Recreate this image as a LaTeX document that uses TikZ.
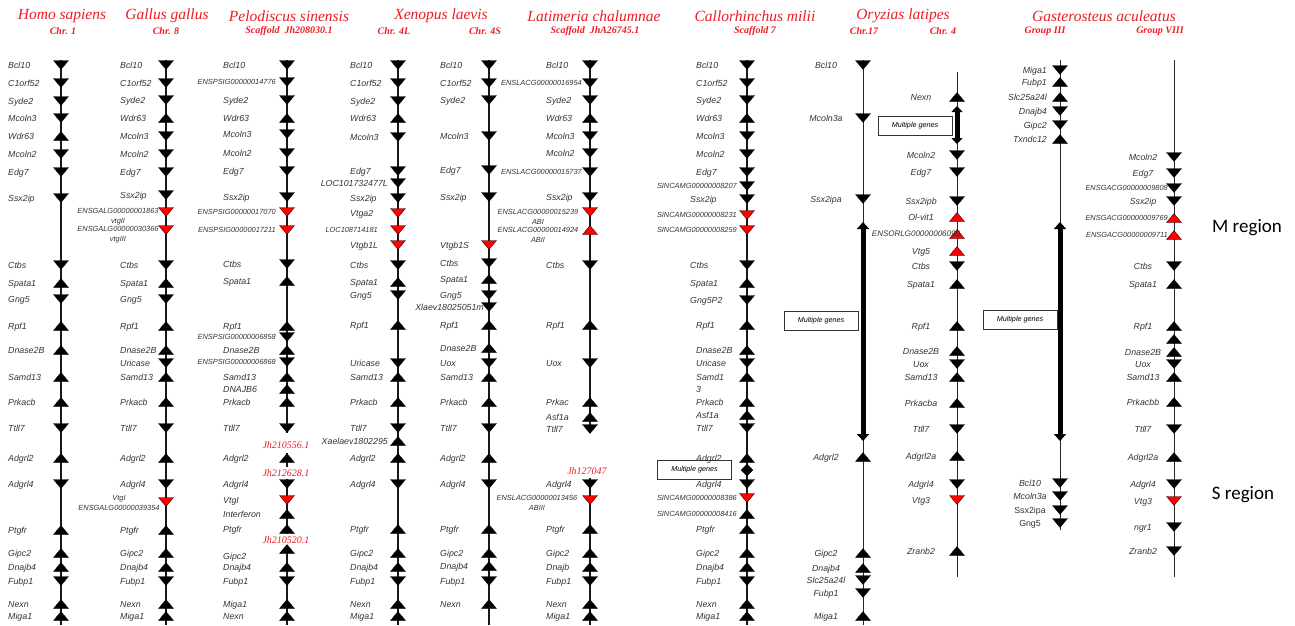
\documentclass[tikz,border=0pt]{standalone}
\usepackage{fontspec}
\setmainfont{Liberation Serif}
\setsansfont{Liberation Sans}
\newfontfamily\regfont{Carlito}
\usetikzlibrary{arrows.meta}
\definecolor{tred}{RGB}{236,28,36}
\tikzset{
 chr/.style={line width=1.3pt, black!90},
 chrthin/.style={line width=0.9pt, black!85},
 tri/.style={fill=black, draw=black, line width=0.3pt},
 gl/.style={font=\sffamily\itshape\fontsize{8.8}{10}\selectfont, text=black!80, inner sep=0pt, text height=6.2pt, text depth=0pt},
 glu/.style={font=\sffamily\fontsize{8.8}{10}\selectfont, text=black!80, inner sep=0pt, text height=6.2pt, text depth=0pt},
 gl2/.style={font=\sffamily\itshape\fontsize{8.8}{12}\selectfont, text=black!80, inner sep=0pt, align=left},
 gs1/.style={font=\sffamily\itshape\fontsize{7.4}{9}\selectfont, text=black!80, inner sep=0pt, text height=5.2pt, text depth=0pt},
 gs2/.style={font=\sffamily\itshape\fontsize{7.4}{10}\selectfont, text=black!80, inner sep=0pt, align=center},
 title/.style={font=\itshape\fontsize{15.5}{18}\selectfont, text=tred, inner sep=0pt},
 sub/.style={font=\bfseries\itshape\fontsize{10}{12}\selectfont, text=tred, inner sep=0pt},
 jh/.style={font=\itshape\fontsize{10}{12}\selectfont, text=tred, inner sep=0.5pt},
 mbox/.style={draw=black!80, line width=0.8pt, minimum width=74pt, minimum height=19pt, inner sep=0pt, font=\sffamily\itshape\fontsize{7.2}{8}\selectfont},
 bar/.style={line width=5pt, {Triangle[width=12pt,length=7pt]}-{Triangle[width=12pt,length=7pt]}},
 sbar/.style={line width=5pt, {Triangle[width=11pt,length=6pt]}-{Triangle[width=11pt,length=6pt]}},
 region/.style={font=\regfont\fontsize{19}{22}\selectfont, inner sep=0pt}
}
\newcommand\mkd[2]{\path[tri] (#1,#2) ++(-7.5,-4.5) -- ++(15,0) -- ++(-7.5,9) -- cycle;}
\newcommand\mku[2]{\path[tri] (#1,#2) ++(-7.5,4.5) -- ++(15,0) -- ++(-7.5,-9) -- cycle;}
\newcommand\mkr[2]{\path[tri,fill=red] (#1,#2) ++(-7.5,-4.5) -- ++(15,0) -- ++(-7.5,9) -- cycle;}
\newcommand\mkR[2]{\path[tri,fill=red] (#1,#2) ++(-7.5,4.5) -- ++(15,0) -- ++(-7.5,-9) -- cycle;}
\newcommand\mkany[3]{\csname mk#1\endcsname{#2}{#3}}
% #1 prefix, #2 line x, #3 label x, #4 anchor, #5 label style, #6 list y/kind/text
\newcommand\genecol[6]{\foreach \gy/\gk/\gn in {#6} {\mkany{\gk}{#2}{\gy}\node[#5,anchor=#4] (#1\gy) at (#3,\gy) {\gn};}}
\begin{document}
\begin{tikzpicture}[x=1pt,y=-1pt]
\useasboundingbox (0,0) rectangle (1295,625);
% ---------- titles
\node[title] (tH) at (62,16) {Homo sapiens};
\node[sub] (sH) at (63,31) {Chr. 1};
\node[title] (tG) at (167,16) {Gallus gallus};
\node[sub] (sG) at (166,31) {Chr. 8};
\node[title] (tP) at (289,16) {Pelodiscus sinensis};
\node[sub] (sP) at (289,31) {Scaffold\ \ Jh208030.1};
\node[title] (tX) at (441,16) {Xenopus laevis};
\node[sub] (sX1) at (394,31) {Chr. 4L};
\node[sub] (sX2) at (485,31) {Chr. 4S};
\node[title] (tL) at (594,16) {Latimeria chalumnae};
\node[sub] (sL) at (595,31) {Scaffold\ \ JhA26745.1};
\node[title] (tC) at (755,16) {Callorhinchus milii};
\node[sub] (sC) at (755,31) {Scaffold 7};
\node[title] (tO) at (903,16) {Oryzias latipes};
\node[sub] (sO1) at (864,31) {Chr.17};
\node[sub] (sO2) at (943,31) {Chr. 4};
\node[title] (tGa) at (1104,16) {Gasterosteus aculeatus};
\node[sub] (sGa1) at (1045,31) {Group III};
\node[sub] (sGa2) at (1160,31) {Group VIII};
% ---------- chromosome lines
\coordinate (Ht) at (61,60); \coordinate (Hb) at (61,625); \draw[chr] (Ht) -- (Hb);
\coordinate (Gt) at (166,60); \coordinate (Gb) at (166,625); \draw[chr] (Gt) -- (Gb);
\coordinate (Pt) at (287,60); \coordinate (Pa) at (287,433); \draw[chr] (Pt) -- (Pa);
\coordinate (Pc) at (287,453); \coordinate (Pd) at (287,467); \draw[chr] (Pc) -- (Pd);
\coordinate (Pe) at (287,479); \coordinate (Pf) at (287,534); \draw[chr] (Pe) -- (Pf);
\coordinate (Pg) at (287,545); \coordinate (Pb) at (287,625); \draw[chr] (Pg) -- (Pb);
\coordinate (XLt) at (398,60); \coordinate (XLb) at (398,625); \draw[chr] (XLt) -- (XLb);
\coordinate (XSt) at (489,60); \coordinate (XSb) at (489,625); \draw[chr] (XSt) -- (XSb);
\coordinate (Lt) at (590,60); \coordinate (La) at (590,433); \draw[chr] (Lt) -- (La);
\coordinate (Lc) at (590,478); \coordinate (Lb) at (590,625); \draw[chr] (Lc) -- (Lb);
\coordinate (Ct) at (747,60); \coordinate (Cb) at (747,625); \draw[chr] (Ct) -- (Cb);
\coordinate (Ot) at (863,60); \coordinate (Ob) at (863,625); \draw[chrthin] (Ot) -- (Ob);
\coordinate (Qt) at (957,72); \coordinate (Qb) at (957,577); \draw[chrthin] (Qt) -- (Qb);
\coordinate (At) at (1060,60); \coordinate (Ab) at (1060,530); \draw[chrthin] (At) -- (Ab);
\coordinate (Bt) at (1174,60); \coordinate (Bb) at (1174,577); \draw[chrthin] (Bt) -- (Bb);
% ---------- Homo sapiens
\genecol{H}{61}{8}{west}{gl}{65/d/Bcl10,83/d/C1orf52,101/d/Syde2,118/d/Mcoln3,136/u/Wdr63,154/d/Mcoln2,172/d/Edg7,198/d/Ssx2ip,265/d/Ctbs,283/u/Spata1,299/d/Gng5,326/u/Rpf1,350/u/Dnase2B,377/u/Samd13,402/u/Prkacb,428/d/Ttll7,458/u/Adgrl2,484/d/Adgrl4,530/u/Ptgfr,553/u/Gipc2,567/u/Dnajb4,581/d/Fubp1,604/u/Nexn,616/u/Miga1}
% ---------- Gallus gallus
\genecol{G}{166}{120}{west}{gl}{65/d/Bcl10,83/d/C1orf52,100/d/Syde2,118/u/Wdr63,136/d/Mcoln3,154/d/Mcoln2,172/d/Edg7,195/d/Ssx2ip,265/d/Ctbs,283/u/Spata1,299/d/Gng5,326/u/Rpf1,350/u/Dnase2B,363/d/Uricase,377/u/Samd13,402/u/Prkacb,428/d/Ttll7,458/u/Adgrl2,484/d/Adgrl4,530/u/Ptgfr,553/u/Gipc2,567/u/Dnajb4,581/d/Fubp1,604/u/Nexn,616/u/Miga1}
\mkr{166}{212} \mkr{166}{230} \mkr{166}{502}
\node[gs2] (G212) at (118,217) {ENSGALG00000001863\\vtgII};
\node[gs2] (G230) at (118,235) {ENSGALG00000030366\\vtgIII};
\node[gs2] (G502) at (119,503) {VtgI\\ENSGALG00000039354};
% ---------- Pelodiscus sinensis
\genecol{P}{287}{223}{west}{gl}{65/d/Bcl10,100/d/Syde2,118/u/Wdr63,134/d/Mcoln3,153/d/Mcoln2,171/d/Edg7,197/d/Ssx2ip,264/d/Ctbs,281/u/Spata1,326/u/Rpf1,350/u/Dnase2B,377/u/Samd13,389/u/DNAJB6,402/u/Prkacb,428/d/Ttll7,458/u/Adgrl2,484/d/Adgrl4,500/r/VtgI,514/u/Interferon,529/u/Ptgfr,567/u/Dnajb4,581/d/Fubp1,604/u/Miga1,616/u/Nexn}
\mku{287}{549}
\node[gl,anchor=west] (P556) at (223,556) {Gipc2};
\genecol{PE}{287}{276}{east}{gs1}{82/d/ENSPSIG00000014776,212/r/ENSPSIG00000017070,230/r/ENSPSIG00000017211,337/d/ENSPSIG00000006858,362/d/ENSPSIG00000006868}
\node[jh] (J1) at (286,445) {Jh210556.1};
\node[jh] (J2) at (286,473) {Jh212628.1};
\node[jh] (J3) at (286,540) {Jh210520.1};
% ---------- Xenopus laevis 4L
\genecol{XL}{398}{350}{west}{gl}{65/d/Bcl10,83/d/C1orf52,101/d/Syde2,118/u/Wdr63,137/d/Mcoln3,171/d/Edg7,198/d/Ssx2ip,213/r/Vtga2,245/r/Vtgb1L,265/d/Ctbs,282/u/Spata1,295/d/Gng5,325/u/Rpf1,363/d/Uricase,377/u/Samd13,402/u/Prkacb,428/d/Ttll7,458/u/Adgrl2,484/d/Adgrl4,529/u/Ptgfr,553/u/Gipc2,567/u/Dnajb4,581/d/Fubp1,604/u/Nexn,616/u/Miga1}
\genecol{XLE}{398}{388}{east}{gl}{183/d/LOC101732477L,441/u/Xaelaev1802295}
\genecol{XLF}{398}{378}{east}{gs1}{230/r/LOC108714181}
% ---------- Xenopus laevis 4S
\genecol{XS}{489}{440}{west}{gl}{65/d/Bcl10,83/d/C1orf52,100/d/Syde2,136/d/Mcoln3,170/d/Edg7,197/d/Ssx2ip,245/r/Vtgb1S,263/d/Ctbs,279/u/Spata1,295/d/Gng5,325/u/Rpf1,348/u/Dnase2B,363/d/Uox,377/u/Samd13,402/u/Prkacb,428/d/Ttll7,458/u/Adgrl2,484/d/Adgrl4,529/u/Ptgfr,553/u/Gipc2,566/u/Dnajb4,581/d/Fubp1,604/u/Nexn}
\genecol{XSE}{489}{484}{east}{gl}{307/d/Xlaev18025051m}
% ---------- Latimeria chalumnae
\genecol{L}{590}{546}{west}{gl}{65/d/Bcl10,100/d/Syde2,118/u/Wdr63,136/d/Mcoln3,153/d/Mcoln2,197/d/Ssx2ip,265/d/Ctbs,325/u/Rpf1,363/d/Uox,402/u/Prkac,417/u/Asf1a,429/d/Ttll7,484/d/Adgrl4,529/u/Ptgfr,553/u/Gipc2,567/u/Dnajb,581/d/Fubp1,604/u/Nexn,616/u/Miga1}
\genecol{LE}{590}{582}{east}{gs1}{83/d/ENSLACG00000016954,172/d/ENSLACG00000015737}
\mkr{590}{212} \mkR{590}{230} \mkr{590}{500}
\node[gs2] (L212) at (538,217) {ENSLACG00000015239\\ABI};
\node[gs2] (L230) at (538,235) {ENSLACG00000014924\\ABII};
\node[gs2] (L500) at (537,503) {ENSLACG00000013456\\ABIII};
\node[jh] (J4) at (587,471) {Jh127047};
% ---------- Callorhinchus milii
\genecol{C}{747}{696}{west}{gl}{65/d/Bcl10,83/d/C1orf52,100/d/Syde2,118/u/Wdr63,136/d/Mcoln3,154/d/Mcoln2,172/d/Edg7,325/u/Rpf1,350/u/Dnase2B,363/d/Uricase,402/u/Prkacb,415/u/Asf1a,428/d/Ttll7,458/u/Adgrl2,484/d/Adgrl4,529/u/Ptgfr,553/u/Gipc2,567/u/Dnajb4,581/d/Fubp1,604/u/Nexn,616/u/Miga1}
\genecol{CW}{747}{690}{west}{gl}{199/d/Ssx2ip,265/d/Ctbs,283/u/Spata1,300/d/Gng5P2}
\mku{747}{377}
\node[gl2,anchor=west] (C377) at (696,383) {Samd1\\3};
\genecol{CE}{747}{737}{east}{gs1}{186/d/SINCAMG00000008207,215/r/SINCAMG00000008231,230/r/SINCAMG00000008259,498/r/SINCAMG00000008386,514/u/SINCAMG00000008416}
\path[tri] (747,464) -- (753,470) -- (747,476) -- (741,470) -- cycle;
\node[mbox] (mC) at (694.5,470) {Multiple genes};
% ---------- Oryzias latipes Chr.17
\genecol{O}{863}{826}{center}{gl}{65/d/Bcl10,118/d/Mcoln3a,199/d/Ssx2ipa,457/u/Adgrl2,553/u/Gipc2,568/u/Dnajb4,580/d/Slc25a24l,593/d/Fubp1,616/u/Miga1}
\coordinate (Oba) at (863,222); \coordinate (Obz) at (863,441);
\draw[bar] (Oba) -- (Obz);
\node[mbox] (mO) at (821,320.5) {Multiple genes};
% ---------- Oryzias latipes Chr.4
\genecol{Q}{957}{921}{center}{gl}{97/u/Nexn,155/d/Mcoln2,172/d/Edg7,201/d/Ssx2ipb,217/R/Ol-vit1,251/R/Vtg5,266/d/Ctbs,284/u/Spata1,326/u/Rpf1,351/u/Dnase2B,364/d/Uox,377/u/Samd13,403/u/Prkacba,429/d/Ttll7,456/u/Adgrl2a,484/d/Adgrl4,500/r/Vtg3,551/u/Zranb2}
\mkR{957}{234}
\node[gs1,font=\sffamily\itshape\fontsize{8}{9}\selectfont] (Q234) at (916,234) {ENSORLG00000006090};
\coordinate (Qba) at (957,106); \coordinate (Qbz) at (957,144);
\draw[sbar] (Qba) -- (Qbz);
\node[mbox] (mQ) at (915,125.5) {Multiple genes};
% ---------- Gasterosteus aculeatus Group III
\genecol{A}{1060}{1047}{east}{gl}{70/d/Miga1,82/u/Fubp1,97/u/Slc25a24l,111/d/Dnajb4,125/d/Gipc2,139/u/Txndc12}
\genecol{AL}{1060}{1030}{center}{gl}{483/d/Bcl10,496/d/Mcoln3a}
\genecol{AM}{1060}{1030}{center}{glu}{510/d/Ssx2ipa,523/d/Gng5}
\coordinate (Aba) at (1060,222); \coordinate (Abz) at (1060,441);
\draw[bar] (Aba) -- (Abz);
\node[mbox] (mA) at (1020,320) {Multiple genes};
% ---------- Gasterosteus aculeatus Group VIII
\genecol{B}{1174}{1143}{center}{gl}{157/d/Mcoln2,173/d/Edg7,201/d/Ssx2ip,266/d/Ctbs,284/u/Spata1,326/u/Rpf1,352/u/Dnase2B,364/d/Uox,377/u/Samd13,402/u/Prkacbb,429/d/Ttll7,457/u/Adgrl2a,484/d/Adgrl4,501/r/Vtg3,527/d/ngr1,551/d/Zranb2}
\mku{1174}{339}
\genecol{BE}{1174}{1168}{east}{gs1}{188/d/ENSGACG00000009808,218/R/ENSGACG00000009769,235/R/ENSGACG00000009711}
% ---------- regions
\node[region] (Mreg) at (1247,228) {M region};
\node[region] (Sreg) at (1243,495) {S region};
\end{tikzpicture}
\end{document}
